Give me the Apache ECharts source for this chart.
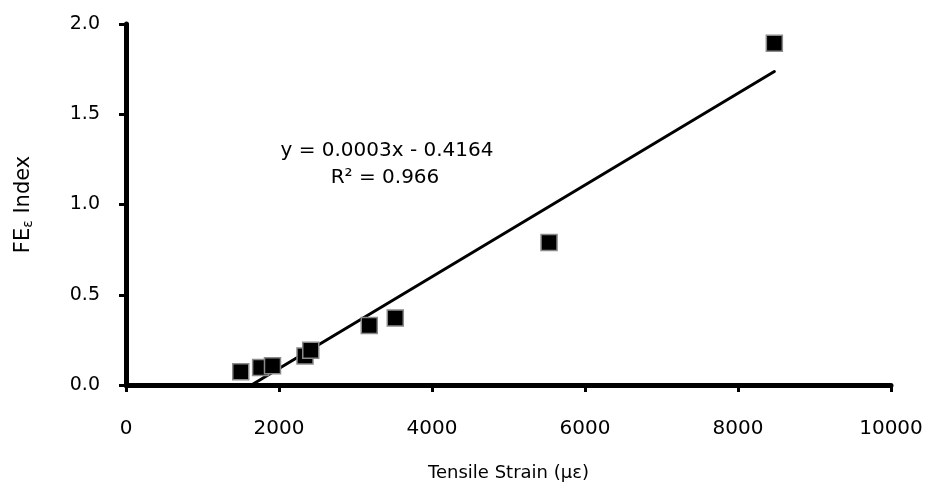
<!DOCTYPE html>
<html>
<head>
<meta charset="utf-8">
<script src="https://cdn.jsdelivr.net/npm/echarts@6/dist/echarts.min.js"></script>
<style>
  html, body { margin: 0; padding: 0; background: #fff; }
  #chart { width: 927px; height: 487px; }
</style>
</head>
<body>
<div id="chart"></div>
<script>
// measured points (tensile strain, FE index)
var strain = [1500, 1760, 1915, 2340, 2415, 3180, 3520, 5530, 8475];
var feIndex = [0.073, 0.097, 0.106, 0.161, 0.192, 0.330, 0.371, 0.790, 1.894];
// trend line ends
var trendX = [1640, 8475];
var trendY = [0.0, 1.737];
var xTicks = [0, 2000, 4000, 6000, 8000, 10000];
var yTicks = [0.0, 0.5, 1.0, 1.5, 2.0];

var font = 'DejaVu Sans';

var chart = echarts.init(document.getElementById('chart'));

var points = strain.map(function (x, i) { return [x, feIndex[i]]; });
var trend = trendX.map(function (x, i) { return [x, trendY[i]]; });

var option = {
    animation: false,
    backgroundColor: '#fff',
    grid: { left: 126, right: 36, top: 24, bottom: 100 },
    xAxis: {
        type: 'value',
        min: xTicks[0],
        max: xTicks[xTicks.length - 1],
        interval: 2000,
        name: 'Tensile Strain (με)',
        nameLocation: 'middle',
        nameGap: 79,
        nameTextStyle: { fontFamily: font, fontSize: 18, color: '#000' },
        axisLine: { show: true, lineStyle: { color: '#000', width: 5 } },
        axisTick: { show: true, inside: false, length: 7, lineStyle: { color: '#000', width: 3 } },
        axisLabel: {
            margin: 34, fontFamily: font, fontSize: 20, color: '#000',
            formatter: function (v) { return String(v); }
        },
        splitLine: { show: false }
    },
    yAxis: {
        type: 'value',
        min: yTicks[0],
        max: yTicks[yTicks.length - 1],
        interval: 0.5,
        name: 'FE{sub|ε} Index',
        nameLocation: 'middle',
        nameGap: 91,
        nameRotate: 90,
        nameTextStyle: {
            fontFamily: font, fontSize: 21, color: '#000',
            rich: { sub: { fontFamily: font, fontSize: 14, color: '#000', verticalAlign: 'bottom', padding: [9, 0, 0, 0] } }
        },
        axisLine: { show: true, lineStyle: { color: '#000', width: 5 } },
        axisTick: { show: true, inside: false, length: 7, lineStyle: { color: '#000', width: 3 } },
        axisLabel: {
            margin: 26, fontFamily: font, fontSize: 19, color: '#000',
            formatter: function (v) { return v.toFixed(1); }
        },
        splitLine: { show: false }
    },
    graphic: [
        {
            type: 'text', x: 387, y: 151,
            style: { text: 'y = 0.0003x - 0.4164', fontFamily: font, fontSize: 20, fill: '#000', align: 'center', verticalAlign: 'middle' }
        },
        {
            type: 'text', x: 385, y: 178,
            style: { text: 'R² = 0.966', fontFamily: font, fontSize: 20, fill: '#000', align: 'center', verticalAlign: 'middle' }
        }
    ],
    series: [
        {
            name: 'trend',
            type: 'line',
            data: trend,
            symbol: 'none',
            lineStyle: { color: '#000', width: 3, cap: 'round' },
            z: 2
        },
        {
            name: 'FE index',
            type: 'scatter',
            data: points,
            symbol: 'rect',
            symbolSize: 16,
            itemStyle: { color: '#000', borderColor: '#8a8a8a', borderWidth: 1.5, opacity: 1 },
            z: 3
        }
    ]
};

chart.setOption(option);
</script>
</body>
</html>
